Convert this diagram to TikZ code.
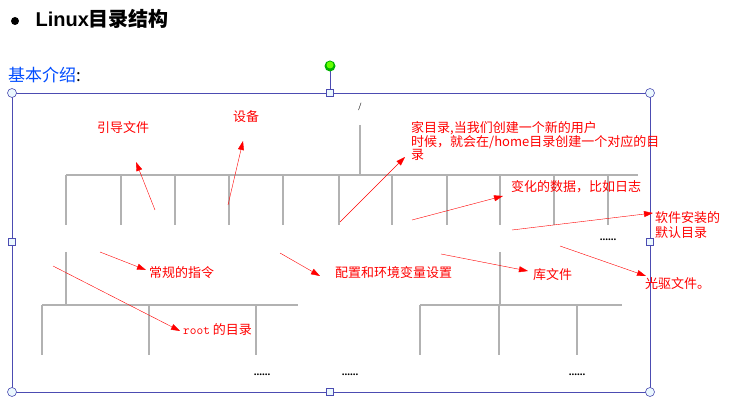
\documentclass[tikz,border=0pt]{standalone}
\usepackage{fontspec}
\setmainfont{Liberation Serif}
\newfontfamily\cjk{Noto Sans CJK SC}
\newfontfamily\headfont{Liberation Sans}
\usetikzlibrary{positioning,arrows.meta}
\newcommand\moredots{......}
\tikzset{
  dir/.style={font=\bfseries\fontsize{11}{12}\selectfont, inner sep=1pt},
  note/.style={text=red, font=\cjk\fontsize{13}{14}\selectfont, inner sep=1pt, anchor=west, align=left},
  tree/.style={draw=gray!60, line width=1.2pt},
  pointer/.style={draw=red, -{Triangle[length=9pt,width=6pt]}},
  frame/.style={draw=blue!40!gray, line width=0.8pt},
  handle/.style={draw=blue!40!gray, fill=cyan!8, line width=0.6pt}
}
\begin{document}
\begin{tikzpicture}[x=1pt,y=-1pt]
\useasboundingbox (0,0) rectangle (752,419);
% heading
\fill (15,21) circle (4);
\node[anchor=west, font=\headfont\bfseries\fontsize{20}{22}\selectfont] (title) at (32,19) {Linux{\cjk 目录结构}};
\node[anchor=west, text=blue!70!cyan, font=\cjk\fontsize{17}{18}\selectfont, inner sep=0pt] (intro) at (8,75) {基本介绍\textcolor{black}{:}};
% frame
\draw[frame] (12,93) rectangle (650,392);
\draw[frame] (330,66) -- (330,93);
\fill[green!70!black] (330,66) circle (5.5);
\fill[green!60!yellow] (330,65) circle (3.5);
\foreach \x/\y in {12/93,650/93,12/392,650/392}
  \draw[handle] (\x,\y) circle (4.5);
\foreach \x/\y in {330/93,12/242,650/242,330/392}
  \draw[handle] (\x-3.5,\y-3.5) rectangle (\x+3.5,\y+3.5);
% tree
\node[dir, font=\fontsize{11}{12}\selectfont] (top) at (360,107) {/};
\draw[tree] (360,125) -- (360,175);
\draw[tree] (66,175) -- (638,175);
\foreach \x/\name/\txt in {66/root//root,121/bin//bin,175/boot//boot,229/dev//dev,283/etc//etc,339/home//home,392/var//var,447/lib//lib,500/usr//usr,554/media//media,608/more/\moredots}{
  \draw[tree] (\x,175) -- (\x,225);
  \node[dir] (\name) at (\x,240) {\txt};
}
\draw[tree] (66,252) -- (66,305);
\draw[tree] (42,305) -- (298,305);
\draw[tree] (500,252) -- (500,305);
\draw[tree] (420,305) -- (622,305);
\foreach \x in {42,149,256,420,499,577}
  \draw[tree] (\x,305) -- (\x,355);
\foreach \x/\name/\txt in {60/desk//root/Desktop,162/mail//root/Maildir,262/rmore/\moredots,350/smore/\moredots,423/ubin//usr/bin,499/ulib//usr/lib,577/umore/\moredots}
  \node[dir] (\name) at (\x,375) {\txt};
% notes
\node[note] (boottxt) at (96,128) {引导文件};
\node[note] (devtxt) at (232,117) {设备};
\node[note, font=\cjk\fontsize{13}{13}\selectfont] (hometxt) at (410,141) {家目录,当我们创建一个新的用户\\时候，就会在/home目录创建一个对应的目\\录};
\node[note] (vartxt) at (510,187) {变化的数据，比如日志};
\node[note, font=\cjk\fontsize{13}{15}\selectfont] (usrtxt) at (654,225) {软件安装的\\默认目录};
\node[note] (bintxt) at (148,273) {常规的指令};
\node[note] (etctxt) at (334,273) {配置和环境变量设置};
\node[note] (libtxt) at (532,275) {库文件};
\node[note] (mediatxt) at (644,284) {光驱文件。};
\node[note] (roottxt) at (182,330) {{\ttfamily root} 的目录};
% pointers
\draw[pointer] (155,210) -- (136,162);
\draw[pointer] (228,205) -- (243,141);
\draw[pointer] (340,222) -- (405,157);
\draw[pointer] (412,220) -- (503,196);
\draw[pointer] (512,230) -- (653,213);
\draw[pointer] (100,252) -- (146,270);
\draw[pointer] (280,253) -- (320,276);
\draw[pointer] (441,254) -- (528,271);
\draw[pointer] (560,246) -- (646,276);
\draw[pointer] (53,266) -- (180,331);
\end{tikzpicture}
\end{document}
